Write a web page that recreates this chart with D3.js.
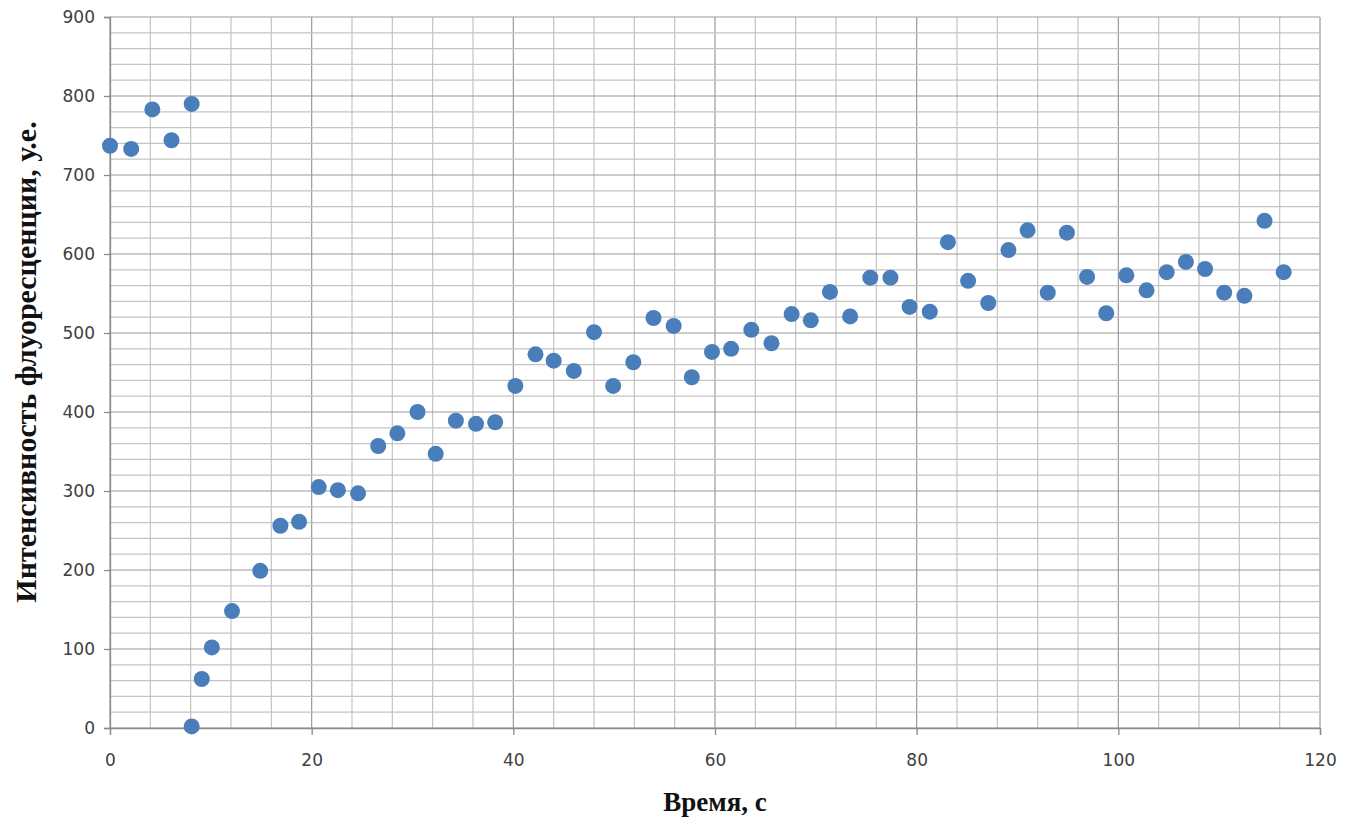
<!DOCTYPE html>
<html>
<head>
<meta charset="utf-8">
<script src="https://cdn.jsdelivr.net/npm/d3@7"></script>
<style>
  body { margin: 0; background: #fff; }
  svg { display: block; }
</style>
</head>
<body>
<svg id="chart" width="1351" height="820"></svg>
<script>
// ---- Data ----
const timeSec = [0, 2.1, 4.2, 6.1, 8.1, 8.1, 9.1, 10.1, 12.1, 14.9, 16.9, 18.75, 20.7, 22.6, 24.6,
  26.6, 28.5, 30.5, 32.3, 34.3, 36.3, 38.2, 40.2, 42.2, 44.0, 46.0, 48.0, 49.9, 51.9, 53.9,
  55.9, 57.7, 59.7, 61.6, 63.6, 65.6, 67.6, 69.5, 71.4, 73.4, 75.4, 77.4, 79.3, 81.3, 83.1,
  85.1, 87.1, 89.1, 91.0, 93.0, 94.9, 96.9, 98.8, 100.8, 102.8, 104.8, 106.7, 108.6, 110.5,
  112.5, 114.5, 116.4];
const intensity = [737, 733, 783, 744, 790, 2, 62, 102, 148, 199, 256, 261, 305, 301, 297,
  357, 373, 400, 347, 389, 385, 387, 433, 473, 465, 452, 501, 433, 463, 519,
  509, 444, 476, 480, 504, 487, 524, 516, 552, 521, 570, 570, 533, 527, 615,
  566, 538, 605, 630, 551, 627, 571, 525, 573, 554, 577, 590, 581, 551,
  547, 642, 577];
const xTicks = [0, 20, 40, 60, 80, 100, 120];
const yTicks = [0, 100, 200, 300, 400, 500, 600, 700, 800, 900];
const xTitle = "Время, с";
const yTitle = "Интенсивность флуоресценции, у.е.";

// ---- Chart ----
const svg = d3.select("#chart");
const x = d3.scaleLinear().domain([0, 120]).range([110, 1320]);
const y = d3.scaleLinear().domain([0, 900]).range([728, 17]);

const gGrid = svg.append("g");
// vertical grid every 4 s
gGrid.selectAll("line.v").data(d3.range(0, 121, 4)).enter().append("line")
  .attr("x1", d => x(d)).attr("x2", d => x(d))
  .attr("y1", y(0)).attr("y2", y(900))
  .attr("stroke", d => d % 20 === 0 ? "#9a9a9a" : "#c4c4c4")
  .attr("stroke-width", 1.2);
// horizontal grid every 20
gGrid.selectAll("line.h").data(d3.range(0, 901, 20)).enter().append("line")
  .attr("x1", x(0)).attr("x2", x(120))
  .attr("y1", d => y(d)).attr("y2", d => y(d))
  .attr("stroke", d => d % 100 === 0 ? "#9a9a9a" : "#c4c4c4")
  .attr("stroke-width", 1.2);

// Axes
const xAxis = d3.axisBottom(x).tickValues(xTicks).tickSize(7).tickPadding(19).tickFormat(d3.format("d"));
const yAxis = d3.axisLeft(y).tickValues(yTicks).tickSize(6).tickPadding(9).tickFormat(d3.format("d"));

const gx = svg.append("g").attr("transform", `translate(0,${y(0)})`).call(xAxis);
const gy = svg.append("g").attr("transform", `translate(${x(0)},0)`).call(yAxis);
[gx, gy].forEach(g => {
  g.select(".domain").attr("stroke", "#8a8a8a").attr("stroke-width", 1.3);
  g.selectAll(".tick line").attr("stroke", "#8a8a8a").attr("stroke-width", 1.3);
  g.selectAll(".tick text")
    .attr("fill", "#404040")
    .style("font-family", "'DejaVu Sans', 'Open Sans', sans-serif")
    .style("font-size", "17px");
});

// Points
svg.append("g").selectAll("circle").data(timeSec.map((t, i) => [t, intensity[i]])).enter()
  .append("circle")
  .attr("cx", d => x(d[0]))
  .attr("cy", d => y(d[1]))
  .attr("r", 8)
  .attr("fill", "#4a7ebb");

// Titles
svg.append("text")
  .attr("x", 715).attr("y", 811)
  .attr("text-anchor", "middle")
  .style("font-family", "'Liberation Serif', 'Times New Roman', serif")
  .style("font-weight", "bold")
  .style("font-size", "27px")
  .attr("fill", "#111")
  .text(xTitle);

svg.append("text")
  .attr("transform", "translate(36,362) rotate(-90)")
  .attr("text-anchor", "middle")
  .style("font-family", "'Liberation Serif', 'Times New Roman', serif")
  .style("font-weight", "bold")
  .style("font-size", "30px")
  .attr("fill", "#111")
  .text(yTitle);
</script>
</body>
</html>
